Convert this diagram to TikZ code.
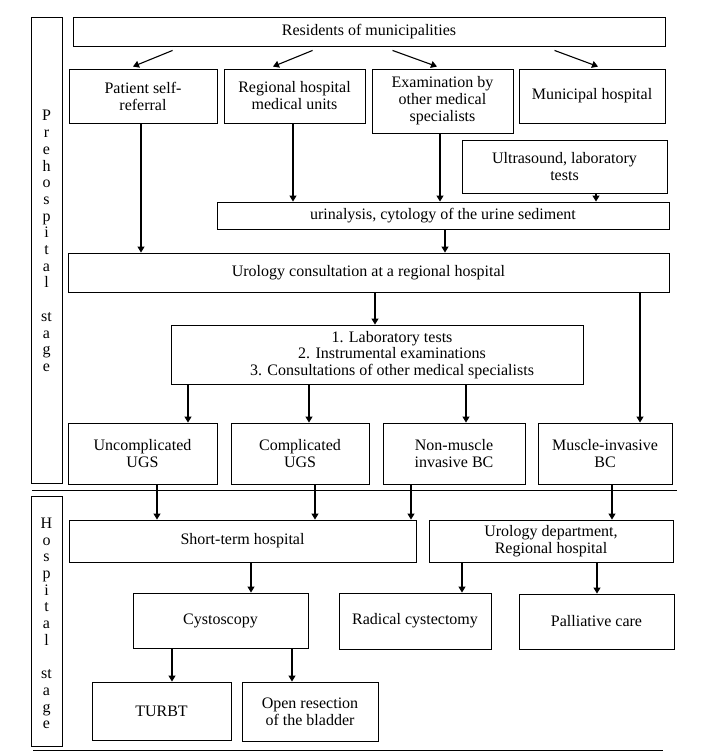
\documentclass[tikz,border=0pt]{standalone}
\usepackage{fontspec}
\setmainfont{Liberation Serif}
\usetikzlibrary{arrows.meta}
\begin{document}
\begin{tikzpicture}[x=1pt,y=-1pt,
  box/.style={draw=black, line width=0.9pt, inner sep=0pt, align=center,
    font=\fontsize{16}{17}\selectfont},
  txt/.style={inner sep=0pt, align=center, font=\fontsize{16}{16.7}\selectfont},
  arr/.style={line width=1.1pt, -{Triangle[length=6pt,width=7pt]}},
  sep/.style={line width=1pt}
]
\useasboundingbox (0,0) rectangle (709,754);
% stage labels
\node[box, minimum width=31, minimum height=466] (pre) at (46.5,250) {};
\node[txt] (pretxt) at (46.5,241) {P\\r\\e\\h\\o\\s\\p\\i\\t\\a\\l\\[16.7pt]st\\a\\g\\e};
\node[box, minimum width=31, minimum height=250] (hosp) at (46.5,621) {};
\node[txt] (hosptxt) at (46.5,623.5) {H\\o\\s\\p\\i\\t\\a\\l\\[16.7pt]st\\a\\g\\e};
% separators
\coordinate (s1a) at (32,490); \coordinate (s1b) at (677,490);
\coordinate (s2a) at (33,750); \coordinate (s2b) at (663,750);
\draw[sep] (s1a) -- (s1b);
\draw[sep] (s2a) -- (s2b);
% prehospital nodes
\node[box, minimum width=592, minimum height=29] (res) at (369,31.5) {Residents of municipalities};
\node[box, minimum width=148, minimum height=54] (self) at (143,96) {Patient self-\\referral};
\node[box, minimum width=141, minimum height=54] (reg) at (294.5,96) {Regional hospital\\medical units};
\node[box, minimum width=141, minimum height=64] (exam) at (442.5,101) {Examination by\\other medical\\specialists};
\node[box, minimum width=146, minimum height=54] (mun) at (592,96) {Municipal hospital};
\node[box, minimum width=205, minimum height=53] (ultra) at (564.5,166.5) {Ultrasound, laboratory\\tests};
\node[box, minimum width=452, minimum height=27] (urin) at (443,215.5) {urinalysis, cytology of the urine sediment};
\node[box, minimum width=601, minimum height=39] (cons) at (368.5,272.5) {Urology consultation at a regional hospital};
\node[box, minimum width=412, minimum height=59] (lab) at (377,354.5) {};
\node[txt] (labtxt) at (392,355) {1. Laboratory tests\\2. Instrumental examinations\\3. Consultations of other medical specialists};
\node[box, minimum width=149, minimum height=61] (unc) at (142.5,453.5) {Uncomplicated\\UGS};
\node[box, minimum width=138, minimum height=61] (comp) at (300,453.5) {Complicated\\UGS};
\node[box, minimum width=142, minimum height=61] (nmibc) at (454,453.5) {Non-muscle\\invasive BC};
\node[box, minimum width=134, minimum height=61] (mibc) at (605,453.5) {Muscle-invasive\\BC};
% hospital nodes
\node[box, minimum width=347, minimum height=42] (short) at (242.5,541) {Short-term hospital};
\node[box, minimum width=244, minimum height=42] (urodep) at (551,541) {Urology department,\\Regional hospital};
\node[box, minimum width=175, minimum height=55] (cysto) at (220.5,620.5) {Cystoscopy};
\node[box, minimum width=152, minimum height=56] (radical) at (415,621) {Radical cystectomy};
\node[box, minimum width=155, minimum height=55] (pall) at (596.5,621.5) {Palliative care};
\node[box, minimum width=139, minimum height=58] (turbt) at (161.5,711) {TURBT};
\node[box, minimum width=136, minimum height=59] (open) at (310,711.5) {Open resection\\of the bladder};
% arrows
\draw[arr] ([xshift=100pt,yshift=-4pt]res.south west) -- ([xshift=-10pt,yshift=2pt]self.north);
\draw[arr] ([xshift=240pt,yshift=-4pt]res.south west) -- ([xshift=-21.5pt,yshift=2pt]reg.north);
\draw[arr] ([xshift=320pt,yshift=-4pt]res.south west) -- ([xshift=-5.5pt,yshift=2pt]exam.north);
\draw[arr] ([xshift=482pt,yshift=-4pt]res.south west) -- ([xshift=6pt,yshift=2pt]mun.north);
\draw[arr] ([xshift=-2pt]self.south) -- ([xshift=-2pt]self.south |- cons.north);
\draw[arr] ([xshift=-1.5pt]reg.south) -- ([xshift=-1.5pt]reg.south |- urin.north);
\draw[arr] ([xshift=-2.5pt]exam.south) -- ([xshift=-2.5pt]exam.south |- urin.north);
\draw[arr] ([xshift=31.5pt]ultra.south) -- ([xshift=31.5pt]ultra.south |- urin.north);
\draw[arr] ([xshift=2pt]urin.south) -- ([xshift=2pt]urin.south |- cons.north);
\draw[arr] ([xshift=6.5pt]cons.south) -- ([xshift=6.5pt]cons.south |- lab.north);
\draw[arr] ([xshift=35pt]mibc.north |- cons.south) -- ([xshift=35pt]mibc.north);
\draw[arr] ([xshift=45.5pt]unc.north |- lab.south) -- ([xshift=45.5pt]unc.north);
\draw[arr] ([xshift=9pt]comp.north |- lab.south) -- ([xshift=9pt]comp.north);
\draw[arr] ([xshift=12pt]nmibc.north |- lab.south) -- ([xshift=12pt]nmibc.north);
\draw[arr] ([xshift=14.5pt]unc.south) -- ([xshift=14.5pt]unc.south |- short.north);
\draw[arr] ([xshift=15pt]comp.south) -- ([xshift=15pt]comp.south |- short.north);
\draw[arr] ([xshift=-43pt]nmibc.south) -- ([xshift=-43pt]nmibc.south |- short.north);
\draw[arr] ([xshift=7pt]mibc.south) -- ([xshift=7pt]mibc.south |- urodep.north);
\draw[arr] ([xshift=30.5pt]cysto.north |- short.south) -- ([xshift=30.5pt]cysto.north);
\draw[arr] ([xshift=47pt]radical.north |- urodep.south) -- ([xshift=47pt]radical.north);
\draw[arr] ([xshift=0.5pt]pall.north |- urodep.south) -- ([xshift=0.5pt]pall.north);
\draw[arr] ([xshift=10.5pt]turbt.north |- cysto.south) -- ([xshift=10.5pt]turbt.north);
\draw[arr] ([xshift=-18pt]open.north |- cysto.south) -- ([xshift=-18pt]open.north);
\end{tikzpicture}
\end{document}
